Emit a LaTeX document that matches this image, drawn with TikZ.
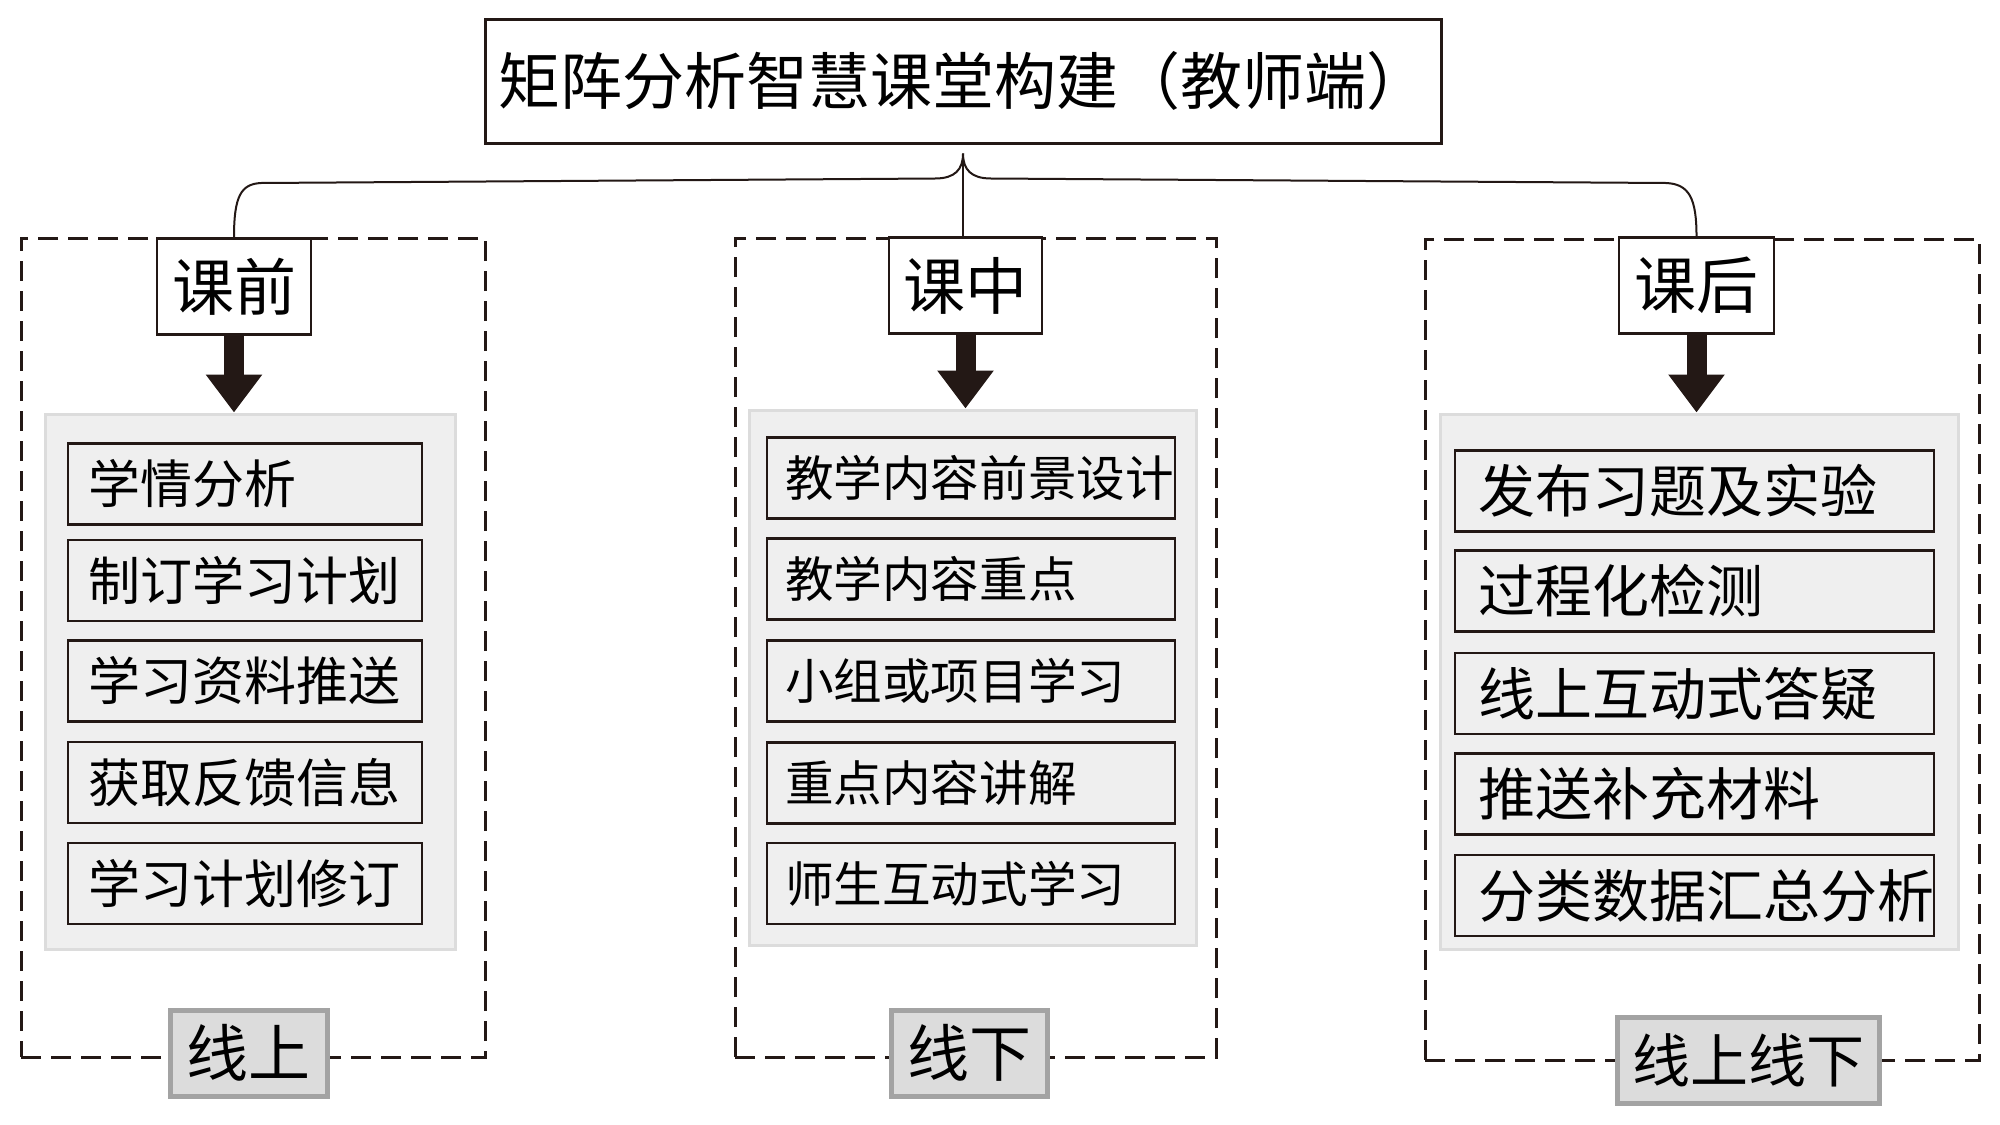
\documentclass[tikz,border=0pt]{standalone}
\usepackage{fontspec}
\newfontfamily\cjk{Noto Sans CJK SC}
\usetikzlibrary{calc,arrows.meta}
\definecolor{ink}{HTML}{231815}
\definecolor{panelfill}{HTML}{EFEFEF}
\definecolor{paneldraw}{HTML}{DCDCDC}
\definecolor{tagfill}{HTML}{DCDCDC}
\definecolor{tagdraw}{HTML}{A3A3A3}
\tikzset{
  titlebox/.style={draw=ink, line width=1.5pt, fill=white, minimum width=478pt, minimum height=62pt, inner sep=0pt,
    font=\cjk\fontsize{31}{36}\selectfont},
  frame/.style={draw=ink, line width=1.5pt, dash pattern=on 10pt off 5pt, minimum height=409.5pt, inner sep=0pt},
  headbox/.style={draw=ink, line width=1.2pt, fill=white, minimum height=48pt, inner sep=0pt,
    font=\cjk\fontsize{31}{36}\selectfont},
  panel/.style={draw=paneldraw, fill=panelfill, line width=1.5pt, minimum height=267.5pt, inner sep=0pt},
  itembox/.style={draw=ink, line width=1.3pt, fill=panelfill, minimum height=40.5pt, align=left, inner ysep=0pt},
  leftitem/.style={itembox, inner xsep=10pt, text width=157pt, font=\cjk\fontsize{26}{30}\selectfont},
  miditem/.style={itembox, inner xsep=9pt, text width=186pt, font=\cjk\fontsize{24.3}{28}\selectfont},
  rightitem/.style={itembox, inner xsep=11.5pt, text width=216.5pt, font=\cjk\fontsize{28.5}{32}\selectfont},
  tagbox/.style={draw=tagdraw, fill=tagfill, line width=2.5pt, minimum height=43pt, inner sep=0pt,
    font=\cjk\fontsize{31}{36}\selectfont},
  bigarrow/.style={draw=ink, line width=10pt, -{Triangle[width=27pt,length=19pt]}},
  brace/.style={draw=ink, line width=1pt}
}
\begin{document}
\begin{tikzpicture}[x=0.5pt,y=-0.5pt]
\useasboundingbox (0,0) rectangle (2000,1124);
\fill[white] (0,0) rectangle (2000,1124);

% title
\node[titlebox] (title) at (963,81) {矩阵分析智慧课堂构建（教师端）};

% dashed frames
\node[frame, minimum width=232pt] (f1) at (253,647.5) {};
\node[frame, minimum width=240.5pt] (f2) at (975.5,647.5) {};
\node[frame, minimum width=277pt, minimum height=410.5pt] (f3) at (1702,649.5) {};

% headers
\node[headbox, minimum width=77pt] (h1) at (234,286.5) {课前};
\node[headbox, minimum width=76.5pt] (h2) at (965.5,285.5) {课中};
\node[headbox, minimum width=77.5pt] (h3) at (1696.5,285.5) {课后};

% brace connector
\coordinate (tip) at ($(title.south)+(0,9)$);
\draw[brace] (tip) .. controls ($(tip)+(0,16)$) and ($(tip)+(-8,25)$) .. ($(tip)+(-28,25)$)
  -- (261,183) .. controls (241,184) and (234,196) .. (h1.north);
\draw[brace] (tip) .. controls ($(tip)+(0,16)$) and ($(tip)+(8,25)$) .. ($(tip)+(28,25)$)
  -- (1666,183) .. controls (1689,184) and (1696.5,198) .. (h3.north);
\draw[brace] (tip) -- (tip |- h2.north);

% panels
\node[panel, minimum width=205pt] (p1) at (250,681.5) {};
\node[panel, minimum width=223.5pt] (p2) at (972.5,677.5) {};
\node[panel, minimum width=259pt] (p3) at (1699,681.5) {};

% big arrows
\draw[bigarrow] (h1.south) -- (h1.south |- p1.north);
\draw[bigarrow] (h2.south) -- (h2.south |- p2.north);
\draw[bigarrow] (h3.south) -- (h3.south |- p3.north);

% left items
\node[leftitem] (l1) at (245,484) {学情分析};
\node[leftitem] (l2) at (245,580.5) {制订学习计划};
\node[leftitem] (l3) at (245,681) {学习资料推送};
\node[leftitem] (l4) at (245,782.5) {获取反馈信息};
\node[leftitem] (l5) at (245,883.5) {学习计划修订};

% middle items
\node[miditem] (m1) at (971,478) {教学内容前景设计};
\node[miditem] (m2) at (971,579) {教学内容重点};
\node[miditem] (m3) at (971,681) {小组或项目学习};
\node[miditem] (m4) at (971,783) {重点内容讲解};
\node[miditem] (m5) at (971,883.5) {师生互动式学习};

% right items
\node[rightitem] (r1) at (1694.5,491) {发布习题及实验};
\node[rightitem] (r2) at (1694.5,591) {过程化检测};
\node[rightitem] (r3) at (1694.5,693.5) {线上互动式答疑};
\node[rightitem] (r4) at (1694.5,794) {推送补充材料};
\node[rightitem] (r5) at (1694.5,895.5) {分类数据汇总分析};

% tags
\node[tagbox, minimum width=78.5pt] (t1) at (248.5,1053) {线上};
\node[tagbox, minimum width=78pt] (t2) at (969,1053) {线下};
\node[tagbox, minimum width=131pt, font=\cjk\fontsize{29}{34}\selectfont] (t3) at (1748,1060) {线上线下};
\end{tikzpicture}
\end{document}
